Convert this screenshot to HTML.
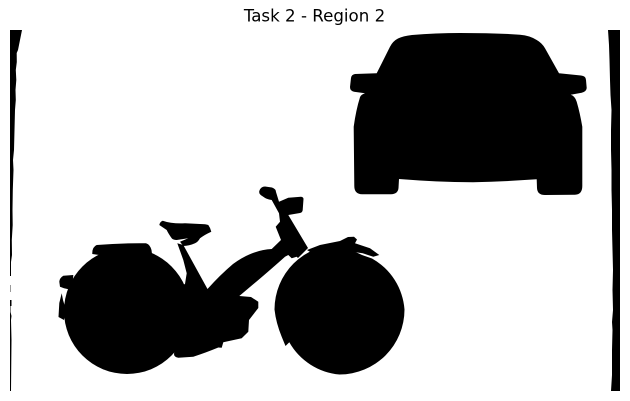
<!DOCTYPE html>
<html lang="en">
<head>
<meta charset="utf-8">
<title>Task 2 - Region 2</title>
<style>
html,body{margin:0;padding:0;background:#fff;width:630px;height:401px;overflow:hidden}
svg{display:block}
</style>
</head>
<body>
<svg width="630" height="401" viewBox="0 0 630 401" xmlns="http://www.w3.org/2000/svg">
<rect x="0" y="0" width="630" height="401" fill="#fff"/>
<text x="314.5" y="21.5" text-anchor="middle" font-family="'DejaVu Sans',sans-serif" font-size="16.67px" fill="#000">Task 2 - Region 2</text>
<g fill="#000">
<path d="M10 30L22 30L20 40L18 50L16.7 53L16.8 62L15.8 70L16.3 80L15.5 90L15.8 100L15 110L14.5 130L14 150L13 160L13.5 170L12.8 190L12.5 210L12.7 225L11.8 240L12 255L11 262L11 276L10 276L10 260Z"/>
<path d="M10 300L11.5 300L11.5 306L10.5 306L10.5 312L11.5 316L11 320L11.5 340L11 391L10 391Z"/>
<path fill="#999" d="M10 285H11V292H10Z"/>
<path d="M608 30L620 30L620 391L611 391L612 375L612 350L612.5 330L612 322L613 310L612.5 290L613 270L612.5 250L612 230L612 210L611.5 190L611.5 170L611 150L611 130L611.5 110L610.5 95L610 80L609.5 60L609 45Z"/>
<path d="M376.7 73.3L390 46.7Q393 41 398 38.5Q403 36 412 35Q436 33 460 33Q495 33 520 34.7Q530 35.5 536.7 40Q542 43 545 48.3L559 73.3L581 75.5Q586 76 586 80L586.7 88Q586.5 91.5 581.7 92.7L570.7 94.7Q575 96 576.7 101.7Q580 113 582.3 126.7L582.3 186Q582.3 194.5 575 194.7L545 195Q537.3 195 537 188L536.7 179.3Q505 181.5 473 182.3Q436 182 399 179L398.5 188Q398 194 391 194.3L362 194.3Q354.3 194 354.3 186L353.7 126.7Q356 110 360 97.3Q361 94.5 365 93.3L354 91.7Q350 91 350 87L351 78Q351.5 74.5 355 74Z"/>
<circle cx="127" cy="311" r="63"/>
<path d="M372 258.5A64 64 0 0 1 404.5 309.5A65 65 0 0 1 339.5 374.5A64 64 0 0 1 289.3 342.3L285.5 346L281.7 336.7Q276 323 274.5 309.5A65 65 0 0 1 339.5 244.5L362 255Z"/>
<path d="M92.3 254Q92 247 96.7 245Q122 243 146 243.3Q150 244.5 151.5 250L152 254L120 258Z"/>
<path d="M73.3 275L63.3 275.7Q59.5 278 59.3 281.7L60 286.7L64 288.3L72 290Z"/>
<path d="M61.7 293.3L59.3 303L58.5 317L64 320L66 310L63 300Z"/>
<path d="M159.3 225Q160 221.5 162.7 220.7Q172 224 185 223.3L200 224Q206 224 208.3 225Q210.5 228 211.3 231.7Q204 235 200 238.3Q198 242 195 243.3Q189 246 183.3 246L180 241.7L188.3 238.3L176.7 240Q173 240 171.7 238.3Q168 233 166.7 230Z"/>
<path d="M177.3 243.3L183.3 245L207.5 289Q220 275 233 264Q252 250 271.7 249L281 240L275.7 226.7L280 221.7L279 213.3L271.7 200Q266 199 263.3 196.7Q258 194 259.5 190.5Q261 186.5 265 186.5L272 187.5Q276 189 276 192L279 201.7L288.3 197.7L301 196.7Q303.5 197 303.5 199L302.7 210Q302.5 212.5 300 213L288.3 215L308 248L298 258L296.7 256.7L291.7 258.3L288.3 255L285 256.7Q268 272 239.3 296L251 297L258.3 301.7L258.3 308L249 320L248.3 331.7L241.7 338.3L223.3 342.3L221.7 347.7L218.3 347.5Q205 353 193.3 356.7L178.3 357.7Q174 357 174 354L175 347L150 330L170 290L185 284L186.7 273.3L183.3 260Z"/>
<path d="M307 250L320 245L340 241L348 237L354 236.7L357 239.5L355 243.3L370 248.3L379.3 255L373.3 256.7L362.7 253.3L340 250L315 255Z"/>
</g>
</svg>
</body>
</html>
